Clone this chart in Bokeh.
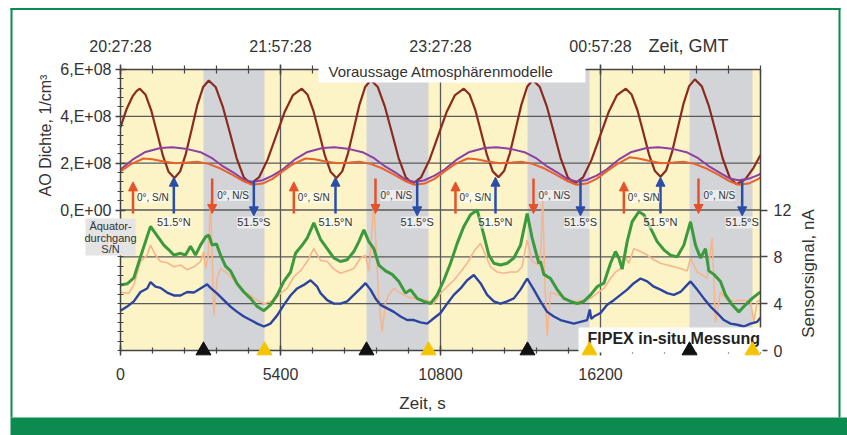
import math
from bokeh.plotting import figure
from bokeh.models import (Range1d, LinearAxis, FixedTicker, CustomJSTickFormatter,
                          ColumnDataSource, Arrow, NormalHead, Label, LabelSet,
                          BoxAnnotation)
from bokeh.core.properties import value
from bokeh.embed import file_html
from bokeh.resources import INLINE

# ---------------- data ----------------
x_ticks = [0, 5400, 10800, 16200]
x_labels = ["0", "5400", "10800", "16200"]
gmt_labels = ["20:27:28", "21:57:28", "23:27:28", "00:57:28"]
x_end = 21600
left_ticks = [0, 2, 4, 6]           # units of 1E+08 1/cm^3
left_grid = [-4, -2, 0, 2, 4]
right_ticks = [0, 4, 8, 12]         # nA

# eclipse (shadow) intervals, s
ecl_start = [2801, 8303, 13736, 19204]
ecl_end = [4860, 10395, 15829, 21330]

# arrow event times, s
t_eq_sn = [422, 5850, 11306, 16988]     # 0 deg, S/N
t_lat_n = [1800, 7256, 12656, 18225]    # 51.5 N
t_eq_ns = [3094, 8606, 13939, 19508]    # 0 deg, N/S
t_lat_s = [4500, 10013, 15525, 20982]   # 51.5 S

# model curves (AO density, 1E+08 1/cm^3)
t_brown = [0, 203, 405, 540, 651, 847, 1043, 1239, 1431, 1627, 1822, 2015, 2207, 2403,
           2595, 2788, 2980, 3216, 3449, 3686, 3918, 4155, 4387, 4674, 4961, 5248, 5535, 5822,
           6119, 6315, 6511, 6707, 6899, 7095, 7290, 7483, 7675, 7871, 8063, 8256, 8448, 8684,
           8917, 9154, 9386, 9623, 9855, 10142, 10429, 10716, 11003, 11290,
           11587, 11783, 11979, 12175, 12367, 12563, 12758, 12951, 13143, 13339, 13531, 13724,
           13916, 14152, 14385, 14622, 14854, 15091, 15323, 15610, 15897, 16184, 16471, 16758,
           17055, 17251, 17447, 17643, 17835, 18031, 18226, 18419, 18611, 18807, 18999, 19192,
           19384, 19620, 19853, 20090, 20322, 20559, 20791, 21078, 21365, 21600]
brown = [3.54, 4.30, 4.85, 5.08, 5.18, 4.92, 4.23, 3.28, 2.32, 1.62, 1.37, 1.65, 2.41, 3.45,
         4.49, 5.25, 5.53, 5.24, 4.43, 3.33, 2.22, 1.41, 1.12, 1.39, 2.14, 3.15, 4.17, 4.91,
         5.18, 4.92, 4.23, 3.28, 2.32, 1.62, 1.37, 1.65, 2.41, 3.45, 4.49, 5.25, 5.55, 5.25,
         4.44, 3.33, 2.22, 1.41, 1.12, 1.39, 2.14, 3.15, 4.17, 4.91,
         5.18, 4.93, 4.25, 3.30, 2.35, 1.65, 1.40, 1.68, 2.43, 3.47, 4.50, 5.26,
         5.55, 5.25, 4.44, 3.33, 2.22, 1.41, 1.12, 1.39, 2.14, 3.15, 4.17, 4.91,
         5.18, 4.93, 4.26, 3.32, 2.38, 1.68, 1.42, 1.70, 2.46, 3.50, 4.53, 5.29,
         5.58, 5.28, 4.46, 3.34, 2.21, 1.39, 1.10, 1.30, 1.80, 2.35]

t_purple = [0, 405, 844, 1350, 1755, 2194, 2700, 3105, 3476, 3814, 4151, 4455, 4793, 5130,
            5468, 5873, 6312, 6818, 7223, 7662, 8168, 8573, 8944, 9282, 9619, 9923, 10261, 10598,
            10936, 11341, 11780, 12286, 12691, 13130, 13636, 14041, 14412, 14750, 15087, 15391, 15729, 16066,
            16404, 16809, 17248, 17754, 18159, 18598, 19104, 19509, 19880, 20218, 20555, 20859, 21197, 21534, 21600]
purple = [1.73, 2.15, 2.48, 2.65, 2.68, 2.62, 2.47, 2.20, 1.85, 1.60, 1.30, 1.20, 1.27, 1.47,
          1.73, 2.15, 2.48, 2.65, 2.68, 2.62, 2.47, 2.20, 1.85, 1.60, 1.30, 1.20, 1.27, 1.47,
          1.73, 2.15, 2.48, 2.65, 2.68, 2.62, 2.47, 2.20, 1.85, 1.60, 1.32, 1.22, 1.28, 1.47,
          1.73, 2.15, 2.48, 2.65, 2.68, 2.62, 2.47, 2.20, 1.85, 1.60, 1.35, 1.27, 1.33, 1.50, 1.55]

t_orange = [0, 338, 776, 1080, 1418, 1856, 2261, 2599, 2970, 3375, 3780, 4118, 4455, 4793, 5130,
            5468, 5806, 6244, 6548, 6886, 7324, 7729, 8067, 8438, 8843, 9248, 9586, 9923, 10261, 10598,
            10936, 11274, 11712, 12016, 12354, 12792, 13197, 13535, 13906, 14311, 14716, 15054, 15391, 15729, 16066,
            16404, 16742, 17180, 17484, 17822, 18260, 18665, 19003, 19374, 19779, 20184, 20522, 20859, 21197, 21534, 21600]
orange = [1.65, 1.95, 2.20, 2.17, 2.08, 2.00, 2.03, 2.06, 1.97, 1.77, 1.50, 1.25, 1.08, 1.13, 1.33,
          1.65, 1.95, 2.20, 2.17, 2.08, 2.00, 2.03, 2.06, 1.97, 1.77, 1.50, 1.25, 1.08, 1.13, 1.33,
          1.65, 1.95, 2.20, 2.17, 2.08, 2.00, 2.03, 2.06, 1.97, 1.77, 1.50, 1.25, 1.08, 1.13, 1.33,
          1.65, 1.95, 2.25, 2.20, 2.10, 2.00, 2.03, 2.06, 1.97, 1.77, 1.50, 1.25, 1.08, 1.13, 1.33, 1.40]

# FIPEX sensor signals, nA
t_green = [0, 225, 450, 675, 844, 1013, 1125, 1294, 1463, 1631, 1800, 2025, 2194, 2363, 2531,
           2700, 2869, 2981, 3094, 3240, 3375, 3544, 3713, 3938, 4163, 4388, 4613, 4838, 5063,
           5288, 5513, 5738, 5906, 6131, 6300, 6525, 6750, 6975, 7200, 7425, 7650, 7875, 8044,
           8213, 8381, 8550, 8719, 8944, 9169, 9394, 9619, 9788, 10013, 10238, 10463, 10688,
           10913, 11138, 11363, 11588, 11813, 12038, 12263, 12431, 12600, 12825, 13050, 13275,
           13500, 13725, 13894, 14119, 14175, 14288, 14513, 14738, 14963, 15188, 15413, 15638,
           15863, 16088, 16313, 16538, 16706, 16819, 16931, 17100, 17269, 17494, 17663, 17888,
           18113, 18338, 18563, 18788, 19013, 19238, 19406, 19575, 19744, 19856, 20025, 20250,
           20419, 20644, 20869, 21094, 21319, 21544, 21600]
green = [5.6, 5.7, 6.2, 8.0, 9.3, 10.6, 10.2, 9.6, 9.0, 8.6, 8.15, 8.3, 8.15, 8.9, 8.15,
         9.0, 9.7, 9.85, 9.0, 9.1, 8.15, 7.2, 6.8, 5.7, 5.0, 4.45, 3.75, 3.4, 3.9,
         4.75, 5.9, 6.7, 8.3, 9.0, 9.6, 10.9, 9.5, 8.7, 7.9, 7.6, 7.75, 8.45, 9.3,
         10.3, 9.3, 8.7, 7.3, 6.8, 6.5, 5.9, 4.9, 5.2, 4.45, 4.2, 4.0, 4.75,
         6.0, 7.45, 9.15, 10.6, 11.6, 12.0, 9.85, 8.15, 7.45, 7.3, 7.45, 7.9,
         9.0, 11.7, 9.6, 7.45, 7.6, 6.5, 6.15, 5.2, 4.45, 4.2, 4.0, 4.2,
         4.75, 5.45, 5.75, 7.45, 8.45, 7.9, 6.95, 9.3, 11.0, 11.85, 11.6, 10.45,
         9.3, 8.6, 8.15, 8.0, 9.0, 11.0, 9.0, 7.9, 8.7, 6.8, 6.5, 5.9,
         4.75, 3.9, 3.3, 3.9, 4.45, 4.9, 5.0]

t_salmon = [0, 281, 450, 675, 900, 1013, 1181, 1350, 1575, 1800, 2025, 2250, 2475, 2700, 2813,
            2869, 2959, 3038, 3094, 3150, 3263, 3375, 3600, 3938, 4163, 4388, 4613, 4838, 5006,
            5175, 5400, 5625, 5850, 6075, 6300, 6525, 6750, 6975, 7200, 7425, 7650, 7875, 8100,
            8269, 8381, 8438, 8550, 8663, 8719, 8831, 8944, 9056, 9225, 9450, 9675, 9900, 10125,
            10350, 10575, 10800, 11025, 11250, 11475, 11700, 11925, 12150, 12319, 12488, 12713,
            12938, 13163, 13388, 13556, 13725, 13894, 14119, 14175, 14250, 14320, 14400, 14513,
            14738, 14963, 15188, 15413, 15638, 15863, 16088, 16313, 16538, 16706, 16875, 16988,
            17156, 17325, 17550, 17775, 18000, 18225, 18450, 18675, 18900, 19125, 19238, 19350,
            19463, 19800, 19969, 20081, 20250, 20475, 20700, 20925, 21263, 21375, 21488, 21600]
salmon = [4.95, 4.9, 5.6, 7.6, 8.15, 9.0, 8.15, 7.6, 7.5, 7.15, 7.3, 6.9, 7.15, 7.6, 8.45,
          7.0, 8.0, 12.8, 8.0, 3.0, 6.2, 7.0, 6.6, 5.7, 5.1, 4.7, 4.3, 4.0, 4.15,
          4.2, 4.9, 5.3, 6.3, 6.8, 7.6, 8.7, 7.7, 7.6, 6.95, 6.6, 6.8, 7.0, 7.9,
          8.15, 6.8, 8.45, 12.6, 7.0, 4.2, 1.6, 4.1, 4.75, 5.3, 4.9, 4.6, 4.45, 4.3,
          4.3, 4.0, 4.9, 5.45, 6.0, 6.7, 7.45, 8.45, 9.15, 8.15, 7.15, 6.7,
          6.6, 6.7, 6.7, 7.15, 9.45, 7.6, 7.3, 8.0, 12.9, 6.0, 1.2, 5.0,
          4.75, 4.6, 4.2, 4.2, 4.3, 4.45, 4.9, 5.3, 6.15, 6.7, 7.0, 8.15,
          7.45, 8.7, 8.45, 8.15, 7.75, 7.45, 7.3, 7.15, 7.0, 6.8, 7.9, 7.3,
          6.7, 6.2, 9.6, 2.4, 5.0, 4.3, 4.2, 4.3, 4.2, 2.4, 4.2, 4.3]

t_blue = [0, 225, 450, 675, 900, 1013, 1181, 1350, 1575, 1800, 2025, 2250, 2475, 2700, 2925,
          3038, 3263, 3488, 3713, 3938, 4163, 4388, 4613, 4838, 5063, 5288, 5513, 5738, 5963,
          6188, 6413, 6638, 6750, 6975, 7200, 7425, 7650, 7875, 8100, 8269, 8438, 8606, 8775,
          9000, 9225, 9450, 9675, 9900, 10125, 10350, 10575, 10800, 11025, 11250, 11475, 11700,
          11925, 12150, 12375, 12600, 12825, 13050, 13275, 13500, 13725, 13950, 14175, 14400,
          14625, 14850, 15075, 15300, 15525, 15750, 15840, 15885, 15975, 16200, 16425, 16650,
          16875, 17100, 17325, 17550, 17775, 18000, 18225, 18450, 18675, 18900, 19125, 19238,
          19463, 19688, 19913, 20138, 20363, 20588, 20813, 21038, 21263, 21488, 21600]
blue = [3.4, 3.75, 4.2, 5.0, 5.3, 5.85, 5.45, 5.35, 4.95, 4.7, 4.7, 5.0, 4.95, 5.3, 5.65,
        5.35, 4.85, 4.3, 3.75, 3.3, 2.9, 2.6, 2.3, 2.05, 2.3, 3.0, 3.9, 4.7, 5.3,
        5.6, 6.0, 5.45, 4.9, 4.3, 4.0, 4.0, 4.2, 4.75, 5.3, 5.75, 5.2, 4.45, 3.9,
        3.6, 3.3, 2.9, 2.6, 2.6, 2.4, 2.3, 2.75, 3.2, 4.0, 4.75, 5.3, 6.0,
        6.45, 5.75, 4.75, 4.2, 4.0, 4.2, 4.45, 5.2, 6.15, 5.2, 4.2, 3.3,
        2.9, 2.6, 2.45, 2.3, 2.45, 2.6, 3.5, 2.7, 2.9, 3.2, 3.9, 4.3,
        4.75, 5.2, 5.75, 6.15, 5.9, 5.45, 5.2, 4.9, 4.75, 5.0, 5.6, 5.9,
        5.2, 4.45, 3.75, 3.2, 2.6, 2.3, 2.2, 2.05, 2.3, 2.45, 2.8]

# ---------------- layout geometry (page pixels) ----------------
W, H = 847, 435
PX_LEFT, PX_RIGHT, PX_TOP, PX_BOTTOM = 120, 760, 69, 350   # plot area on the page
SEC_PER_PX = x_end / (PX_RIGHT - PX_LEFT)
PX_PER_UNIT = (PX_BOTTOM - PX_TOP) / 12.0                    # left axis: -6..6
PX_PER_NA = (PX_BOTTOM - PX_TOP) / 24.0                      # right axis: 0..24
Y0_PX = (PX_TOP + PX_BOTTOM) / 2.0


def tx(px):   # page x -> seconds
    return (px - PX_LEFT) * SEC_PER_PX


def uy(py):   # page y -> left-axis units
    return (Y0_PX - py) / PX_PER_UNIT


# ---------------- styling ----------------
FONT = "Liberation Sans"
YELLOW = "#FCF3C6"
GRAY = "#D3D4D8"
FRAME_GREEN = "#0B8B50"
AXIS = "#444444"
GRIDC = "#5a5a5a"
TXT = "#333333"
C_BROWN = "#8B2A1E"
C_PURPLE = "#8E3F9F"
C_ORANGE = "#E8622A"
C_GREEN = "#3A9A3C"
C_SALMON = "#F6B68C"
C_BLUE = "#2A44A0"
C_ARR_RED = "#E5522A"
C_ARR_BLUE = "#2A4DA8"

p = figure(width=W, height=H, min_border=0,
           x_range=Range1d(tx(0), tx(W)), y_range=Range1d(uy(H), uy(0)),
           x_axis_type=None, y_axis_type=None,
           output_backend="svg", toolbar_location=None,
           background_fill_color="white", border_fill_color="white",
           outline_line_color=None)
p.extra_y_ranges = {"nA": Range1d((PX_BOTTOM - H) / PX_PER_NA, PX_BOTTOM / PX_PER_NA)}

# plot area background and eclipse bands
p.quad(left=[0], right=[x_end], bottom=[-6], top=[6], fill_color=YELLOW, line_color=None)
p.quad(left=ecl_start, right=ecl_end, bottom=-6, top=6, fill_color=GRAY, line_color=None)

# grid lines
p.segment(x0=x_ticks[1:], y0=-6, x1=x_ticks[1:], y1=6, line_color=GRIDC, line_width=1.3)
p.segment(x0=0, y0=left_grid, x1=x_end, y1=left_grid, line_color=GRIDC, line_width=1.3)


def style_axis(ax, size="16px"):
    ax.axis_line_color = AXIS
    ax.axis_line_width = 1.5
    ax.major_tick_line_color = AXIS
    ax.major_tick_line_width = 1.5
    ax.minor_tick_line_color = AXIS
    ax.minor_tick_line_width = 1.2
    ax.major_label_text_font = FONT
    ax.major_label_text_font_size = size
    ax.major_label_text_color = TXT


x_minor = [1080 * i for i in range(21)]
xb = LinearAxis(fixed_location=-6, bounds=(0, x_end),
                ticker=FixedTicker(ticks=x_ticks, minor_ticks=x_minor),
                major_label_overrides=dict(zip(x_ticks, x_labels)))
style_axis(xb)
xb.major_tick_in = 5
xb.major_tick_out = 5
xb.minor_tick_in = 3
xb.minor_tick_out = 3
xb.major_label_standoff = 12
p.add_layout(xb, "below")

xt = LinearAxis(fixed_location=6, bounds=(0, x_end),
                ticker=FixedTicker(ticks=x_ticks, minor_ticks=x_minor),
                major_label_overrides=dict(zip(x_ticks, gmt_labels)))
style_axis(xt)
xt.major_tick_in = 5
xt.major_tick_out = 5
xt.minor_tick_in = 4
xt.minor_tick_out = 4
xt.major_label_standoff = 10
p.add_layout(xt, "above")

y_minor = [round(-6 + 0.4 * i, 2) for i in range(31)]
yl = LinearAxis(fixed_location=0, bounds=(-6, 6),
                ticker=FixedTicker(ticks=left_ticks, minor_ticks=y_minor),
                formatter=CustomJSTickFormatter(code="""
                    if (Math.abs(tick) < 1e-9) { return "0,E+00"; }
                    return tick.toFixed(0) + ",E+08";
                """))
style_axis(yl)
yl.major_tick_in = 5
yl.major_tick_out = 5
yl.minor_tick_in = 3
yl.minor_tick_out = 3
yl.major_label_standoff = 4
p.add_layout(yl, "left")

yr = LinearAxis(fixed_location=x_end, bounds=(0, 24), y_range_name="nA",
                ticker=FixedTicker(ticks=right_ticks, minor_ticks=[]))
style_axis(yr)
yr.major_tick_in = 0
yr.major_tick_out = 7
yr.major_label_standoff = 6
p.add_layout(yr, "right")

# model curves
p.line(t_brown, brown, line_color=C_BROWN, line_width=2.2)
p.line(t_purple, purple, line_color=C_PURPLE, line_width=2)
p.line(t_orange, orange, line_color=C_ORANGE, line_width=2)

# sensor curves
p.line(t_salmon, salmon, line_color=C_SALMON, line_width=1.6, y_range_name="nA")
p.line(t_green, green, line_color=C_GREEN, line_width=3, y_range_name="nA")
p.line(t_blue, blue, line_color=C_BLUE, line_width=2.4, y_range_name="nA")


# arrows
def add_arrows(times, y0, y1, color):
    src = ColumnDataSource(dict(x=times))
    p.add_layout(Arrow(end=NormalHead(size=9, fill_color=color, line_color=color),
                       x_start="x", y_start=y0, x_end="x", y_end=y1, source=src,
                       line_color=color, line_width=2.5))


add_arrows(t_eq_sn, -0.15, 1.2, C_ARR_RED)
add_arrows(t_lat_n, -0.15, 1.4, C_ARR_BLUE)
add_arrows(t_eq_ns, 1.35, -0.15, C_ARR_RED)
add_arrows(t_lat_s, 1.25, -0.25, C_ARR_BLUE)


def add_labelset(times, y, text, size, align, xoff):
    src = ColumnDataSource(dict(x=times, text=[text] * len(times)))
    p.add_layout(LabelSet(x="x", y=y, text="text", source=src, x_offset=xoff,
                          text_align=align, text_baseline="middle",
                          text_font=value(FONT), text_font_size=value(size),
                          text_color=TXT,
                          background_fill_color="white", background_fill_alpha=0.55))


add_labelset(t_eq_sn, 0.53, "0°, S/N", "10px", "left", 4)
add_labelset(t_eq_ns, 0.62, "0°, N/S", "10px", "left", 5)
add_labelset(t_lat_n, -0.53, "51.5°N", "11px", "center", 0)
add_labelset(t_lat_s, -0.53, "51.5°S", "11px", "center", 0)


# boxes and texts
def box(l, r, t, b, color):
    p.add_layout(BoxAnnotation(left=tx(l), right=tx(r), top=uy(t), bottom=uy(b),
                               fill_color=color, fill_alpha=1, line_color=None,
                               level="overlay"))


def label(px, py, text, size, align="center", bold=False, angle=0.0):
    p.add_layout(Label(x=tx(px), y=uy(py), text=text, text_font=FONT, text_font_size=size,
                       text_color=TXT, text_align=align, text_baseline="middle",
                       text_font_style="bold" if bold else "normal", angle=angle,
                       level="overlay"))


box(318, 585, 62, 82, "white")
label(328, 71, "Voraussage Atmosphärenmodelle", "15px", align="left")

box(85, 135, 218, 255, "#E4E4E4")
label(110, 225, "Äquator-", "11px")
label(110, 237, "durchgang", "11px")
label(110, 248, "S/N", "11px")

label(688, 45, "Zeit, GMT", "18px")
label(422, 403, "Zeit, s", "17px")
label(45, 135, "AO Dichte, 1/cm³", "16px", angle=math.pi / 2)
label(808, 273, "Sensorsignal, nA", "17px", angle=math.pi / 2)

# green frame
box(10, W + 2, 417, H + 2, FRAME_GREEN)
box(10, 840, 7.5, 9.5, FRAME_GREEN)
box(10, 12, 7.5, 417, FRAME_GREEN)
box(838, 840, 7.5, 417, FRAME_GREEN)

# FIPEX caption box (glyphs, so that the markers can sit on top of it)
p.quad(left=[tx(578)], right=[tx(762)], top=[uy(327)], bottom=[uy(352)],
       fill_color="white", line_color=None, level="overlay")
p.text(x=[tx(587)], y=[uy(338)], text=["FIPEX in-situ Messung"],
       text_font=value(FONT), text_font_size=value("16px"), text_font_style="bold",
       text_color="#222222", text_align="left", text_baseline="middle", level="overlay")

# eclipse entry / exit markers
p.scatter(ecl_start, [0] * len(ecl_start), marker="triangle", size=15, fill_color="#111111",
          line_color="#111111", y_range_name="nA", level="overlay")
p.scatter(ecl_end, [0] * len(ecl_end), marker="triangle", size=15, fill_color="#F5C400",
          line_color="#F5C400", y_range_name="nA", level="overlay")

open("out.html", "w").write(file_html(p, INLINE))
